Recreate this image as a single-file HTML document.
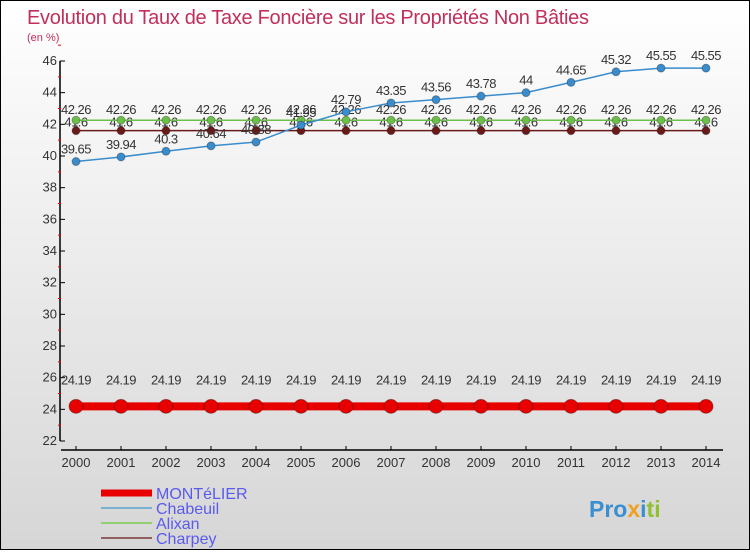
<!DOCTYPE html>
<html><head><meta charset="utf-8"><style>
html,body{margin:0;padding:0;}
body{width:750px;height:550px;overflow:hidden;font-family:"Liberation Sans","DejaVu Sans",sans-serif;}
#wrap{position:relative;width:748px;height:548px;border:1px solid #000;background:linear-gradient(#ffffff,#d6d6d6);}
</style></head><body>
<div id="wrap">
<svg id="chart" width="748" height="548" xmlns="http://www.w3.org/2000/svg">
<text x="26" y="23" font-size="20" fill="#c0305a" font-family="Liberation Sans, sans-serif" textLength="562">Evolution du Taux de Taxe Foncière sur les Propriétés Non Bâties</text>
<text x="26" y="40" font-size="11" fill="#c0305a">(en %)</text>
<g id="axes"></g>
<g id="series"></g>
<g id="legend"></g>
<text x="588" y="516" font-size="23" font-weight="bold" fill="#3a8fd0">Pro<tspan fill="#f0a020">x</tspan><tspan fill="#3a8fd0">i</tspan><tspan fill="#90c030">ti</tspan></text>
</svg>
</div>
<script>
const years=[2000,2001,2002,2003,2004,2005,2006,2007,2008,2009,2010,2011,2012,2013,2014];
const montelier=[24.19,24.19,24.19,24.19,24.19,24.19,24.19,24.19,24.19,24.19,24.19,24.19,24.19,24.19,24.19];
const chabeuil=[39.65,39.94,40.3,40.64,40.88,41.95,42.79,43.35,43.56,43.78,44,44.65,45.32,45.55,45.55];
const alixan=[42.26,42.26,42.26,42.26,42.26,42.26,42.26,42.26,42.26,42.26,42.26,42.26,42.26,42.26,42.26];
const charpey=[41.6,41.6,41.6,41.6,41.6,41.6,41.6,41.6,41.6,41.6,41.6,41.6,41.6,41.6,41.6];
const yTicks=[22,24,26,28,30,32,34,36,38,40,42,44,46];
const NS="http://www.w3.org/2000/svg";
function X(i){return 75+i*45;}
function Y(v){return 440-(v-22)*(380/24);}
function mk(tag,attrs,parent){const e=document.createElementNS(NS,tag);for(const k in attrs)e.setAttribute(k,attrs[k]);parent.appendChild(e);return e;}
const axes=document.getElementById('axes');
let e=mk('line',{x1:59,y1:Y(46),x2:59,y2:Y(22),stroke:'#000','stroke-width':1.5},axes);


e=mk('line',{x1:60,y1:449,x2:722,y2:449,stroke:'#000','stroke-width':1.5},axes);


yTicks.forEach(v=>{
 mk('line',{x1:59,y1:Y(v),x2:64,y2:Y(v),stroke:'#000'},axes);
 mk('line',{x1:57,y1:Y(v+1),x2:60,y2:Y(v+1),stroke:'#e00'},axes);
 const t=mk('text',{x:56,y:Y(v)+4,'font-size':13,'text-anchor':'end',fill:'#333'},axes);
 t.textContent=v;
 
 
});
years.forEach((y,i)=>{
 mk('line',{x1:X(i),y1:445,x2:X(i),y2:449,stroke:'#000'},axes);
 const t=mk('text',{x:X(i),y:466,'font-size':13,'text-anchor':'middle',fill:'#333'},axes);
 t.textContent=y;
 
 
});
const sg=document.getElementById('series');
function series(vals,color,lw,r,name,labelDy){
 const g=mk('g',{},sg);
 
 
 const pts=vals.map((v,i)=>X(i)+','+Y(v)).join(' ');
 mk('polyline',{points:pts,fill:'none',stroke:color,'stroke-width':lw},g);
 vals.forEach((v,i)=>{
  const c=mk('circle',{cx:X(i),cy:Y(v),r:r,fill:color,stroke:'rgba(0,0,0,0.3)'},g);
  
  
  const t=mk('text',{x:X(i),y:Y(v)+labelDy,'font-size':13,'text-anchor':'middle',fill:'#333','letter-spacing':'-0.5'},g);
  t.textContent=v;
  
  
 });
}
series(charpey,'#6b1a1a',1.5,4,'charpey',-4);
series(alixan,'#6cc04a',1.5,4,'alixan',-6);
series(chabeuil,'#3a8ccc',1.5,4,'chabeuil',-8);
series(montelier,'#e80000',8,7,'montelier',-22);
const lg=document.getElementById('legend');
[['MONTéLIER','#e80000',7],['Chabeuil','#7ab0d0',2],['Alixan','#90d070',2],['Charpey','#906060',2]].forEach((d,i)=>{
 const y=492+i*15;
 const l=mk('line',{x1:100,y1:y,x2:151,y2:y,stroke:d[1],'stroke-width':d[2]},lg);
 
 
 const t=mk('text',{x:155,y:y+6,'font-size':16,fill:'#5a5aee'},lg);
 t.textContent=d[0];
 
 
});
</script>
</body></html>
